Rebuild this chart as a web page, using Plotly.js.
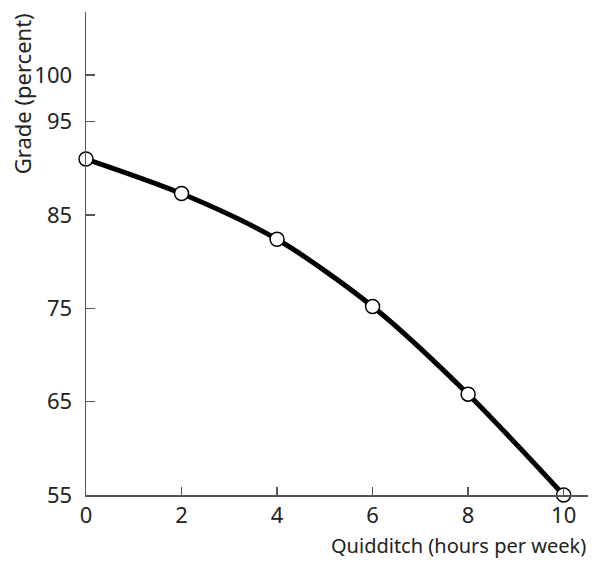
<!DOCTYPE html>
<html>
<head>
<meta charset="utf-8">
<script src="https://cdn.plot.ly/plotly-3.0.1.min.js"></script>
<style>html,body{margin:0;padding:0;background:#fff;}#chart{width:592px;height:565px;}</style>
</head>
<body>
<div id="chart"></div>
<script>
const hours = [0, 2, 4, 6, 8, 10];
const grade = [91, 87.3, 82.4, 75.2, 65.8, 55];
const yTicks = [55, 65, 75, 85, 95, 100];
const xTicks = [0, 2, 4, 6, 8, 10];
const xTitle = "Quidditch (hours per week)";
const yTitle = "Grade (percent)";

const font = "Noto Sans, Open Sans, sans-serif";

const trace = {
  x: hours, y: grade, type: "scatter", mode: "lines+markers",
  line: {color: "#000", width: 5, shape: "spline", smoothing: 0.8},
  marker: {size: 14, color: "#fff", line: {color: "#000", width: 1.5}},
  cliponaxis: false, hoverinfo: "skip"
};

const layout = {
  width: 592, height: 565,
  margin: {l: 86, r: 4, t: 12, b: 70},
  paper_bgcolor: "#fff", plot_bgcolor: "#fff",
  showlegend: false,
  font: {family: font, size: 22, color: "#222"},
  xaxis: {
    range: [0, 10.51], tickvals: xTicks, ticktext: xTicks.map(String),
    ticks: "inside", ticklen: 8, tickwidth: 1.3, tickcolor: "#555",
    showline: true, linecolor: "#555", linewidth: 1.5,
    showgrid: false, zeroline: false, fixedrange: true,
    tickfont: {family: font, size: 22, color: "#222"}
  },
  yaxis: {
    range: [55, 106.75], tickvals: yTicks, ticktext: yTicks.map(String),
    ticks: "inside", ticklen: 9, tickwidth: 1.3, tickcolor: "#555",
    ticklabelstandoff: 8,
    showline: true, linecolor: "#555", linewidth: 1.5,
    showgrid: false, zeroline: false, fixedrange: true,
    tickfont: {family: font, size: 22, color: "#222"}
  },
  annotations: [
    {text: xTitle, xref: "paper", yref: "paper", x: 1, y: -0.072,
     xanchor: "right", yanchor: "top", showarrow: false,
     font: {family: font, size: 20, color: "#222"}},
    {text: yTitle, xref: "paper", yref: "paper", x: -0.128, y: 1.002,
     xanchor: "center", yanchor: "top", textangle: -90, showarrow: false,
     font: {family: font, size: 22, color: "#222"}}
  ]
};

Plotly.newPlot("chart", [trace], layout, {staticPlot: true, displayModeBar: false});
</script>
</body>
</html>
